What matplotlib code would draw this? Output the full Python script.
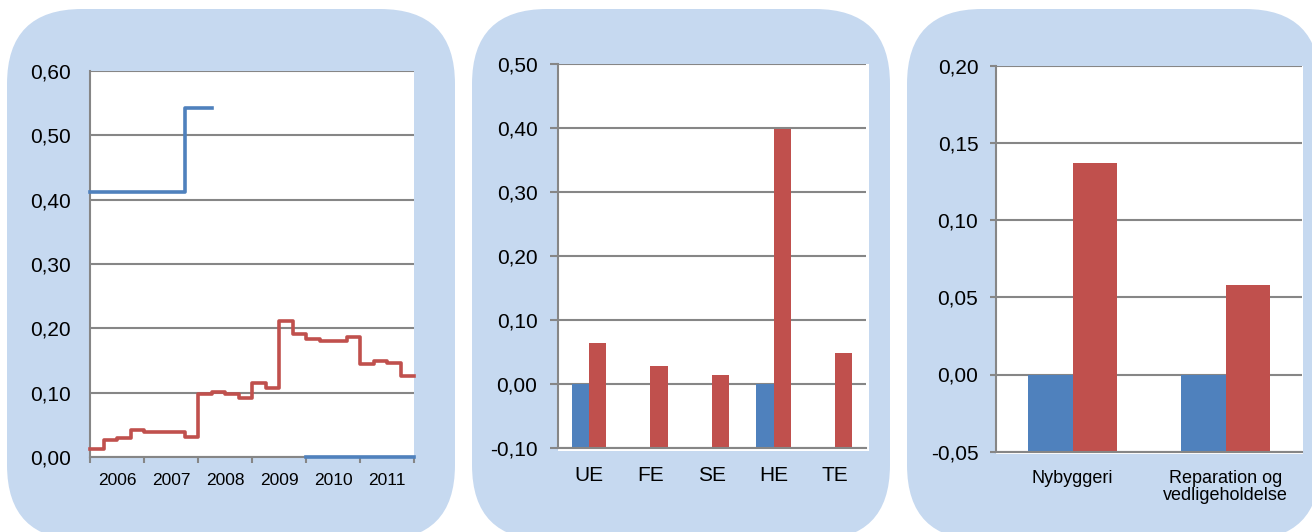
import numpy as np
import matplotlib
matplotlib.use('Agg')
import matplotlib.pyplot as plt
from matplotlib.patches import FancyBboxPatch, Rectangle
from matplotlib.transforms import IdentityTransform
from matplotlib.ticker import FuncFormatter

plt.rcParams['font.family'] = ['Liberation Sans', 'DejaVu Sans']

W, H = 1312, 532
BLUE = '#4F81BD'
RED = '#C0504D'
GRID = '#868686'
PANEL = '#C6D9F0'

# quarterly series, 2006Q1 - 2011Q4
years = [2006, 2007, 2008, 2009, 2010, 2011]
red_q = [0.0135, 0.0276, 0.030, 0.043,
         0.0396, 0.0396, 0.0396, 0.032,
         0.098, 0.102, 0.098, 0.092,
         0.115, 0.107, 0.211, 0.192,
         0.183, 0.180, 0.180, 0.186,
         0.145, 0.149, 0.146, 0.126]
blue_q = [0.412, 0.412, 0.412, 0.412,
          0.412, 0.412, 0.412, 0.5425,
          0.5425, np.nan, np.nan, np.nan,
          np.nan, np.nan, np.nan, np.nan,
          0.0, 0.0, 0.0, 0.0,
          0.0, 0.0, 0.0, 0.0]

cats = ['UE', 'FE', 'SE', 'HE', 'TE']
cat_blue = [0.0, np.nan, np.nan, 0.0, np.nan]
cat_red = [0.064, 0.027, 0.014, 0.399, 0.048]

types = ['Nybyggeri', 'Reparation og\nvedligeholdelse']
type_blue = [0.0, 0.0]
type_red = [0.137, 0.058]


def px_box(x0, y0, x1, y1):
    return [x0 / W, 1 - y1 / H, (x1 - x0) / W, (y1 - y0) / H]


def comma(v, pos):
    return ('%.2f' % v).replace('.', ',')


def panel(fig, x0, x1, y0=9, y1=540):
    fig.add_artist(FancyBboxPatch((x0, H - y1), x1 - x0, y1 - y0,
                                  boxstyle='round,pad=0,rounding_size=75',
                                  transform=IdentityTransform(),
                                  facecolor=PANEL, edgecolor='none', zorder=-2))


def white_back(fig, x0, y0, x1, y1):
    fig.add_artist(Rectangle((x0, H - y1), x1 - x0, y1 - y0,
                             transform=IdentityTransform(),
                             facecolor='white', edgecolor='none', zorder=-1))


def style(ax, ymin, ymax, step, ytick_len, ypad):
    ax.set_ylim(ymin, ymax)
    ax.set_yticks(np.arange(ymin, ymax + step / 2, step))
    ax.yaxis.set_major_formatter(FuncFormatter(comma))
    ax.grid(axis='y', color=GRID, linewidth=1.5)
    ax.set_axisbelow(True)
    for s in ['top', 'right']:
        ax.spines[s].set_visible(False)
    for s in ['left', 'bottom']:
        ax.spines[s].set_color(GRID)
        ax.spines[s].set_linewidth(1.5)
    ax.tick_params(axis='y', length=ytick_len, width=1.5, color=GRID,
                   pad=ypad, labelsize=15, labelcolor='black')


def floor_bars(ax, x, vals, width, color):
    # columns rise from the bottom of the value axis, as in the source sheet
    base = ax.get_ylim()[0]
    ax.bar(x, np.array(vals) - base, width, bottom=base, color=color, zorder=2)


fig = plt.figure(figsize=(W / 100, H / 100), dpi=100)
fig.patch.set_facecolor('white')

panel(fig, 7, 455)
panel(fig, 472, 890)
panel(fig, 907, 1320)

# left panel: quarterly step lines
ax1 = fig.add_axes(px_box(90, 70.7, 414, 457.3))
style(ax1, 0.0, 0.6, 0.1, 0, 14)
qx = 2006 + 0.25 * np.arange(len(red_q) + 1)
ax1.step(qx, np.append(red_q, red_q[-1]), where='post', color=RED,
         linewidth=2.6, clip_on=False, zorder=3)
ax1.step(qx, np.append(blue_q, blue_q[-1]), where='post', color=BLUE,
         linewidth=2.6, clip_on=False, zorder=3)
ax1.set_xlim(2006, 2012)
ax1.set_xticks(np.arange(2006, 2013))
ax1.set_xticklabels([])
ax1.set_xticks([y + 0.5 for y in years], minor=True)
ax1.set_xticklabels([str(y) for y in years], minor=True)
ax1.tick_params(axis='x', which='major', length=4, width=1.5, color=GRID)
ax1.tick_params(axis='x', which='minor', length=0, pad=11, labelsize=12.5)

# middle panel: categories
white_back(fig, 558, 64, 869, 451)
ax2 = fig.add_axes(px_box(558, 64, 866, 447.7))
style(ax2, -0.1, 0.5, 0.1, 5.8, 9)
xc = np.arange(len(cats))
bw = 0.28
floor_bars(ax2, xc - bw / 2, cat_blue, bw, BLUE)
floor_bars(ax2, xc + bw / 2, cat_red, bw, RED)
ax2.set_xlim(-0.5, len(cats) - 0.5)
ax2.set_xticks(xc)
ax2.set_xticklabels(cats)
ax2.tick_params(axis='x', length=0, pad=13, labelsize=15)

# right panel: construction types
white_back(fig, 996, 65.7, 1303, 454)
ax3 = fig.add_axes(px_box(996, 65.7, 1302, 451.7))
style(ax3, -0.05, 0.2, 0.05, 4.3, 8.4)
xt = np.arange(len(types))
bw3 = 0.2876
floor_bars(ax3, xt - bw3 / 2, type_blue, bw3, BLUE)
floor_bars(ax3, xt + bw3 / 2, type_red, bw3, RED)
ax3.set_xlim(-0.5, len(types) - 0.5)
ax3.set_xticks(xt)
ax3.set_xticklabels(types, linespacing=1.05)
ax3.tick_params(axis='x', length=0, pad=13, labelsize=13)

fig.savefig('out.png', dpi=100, facecolor='white')
